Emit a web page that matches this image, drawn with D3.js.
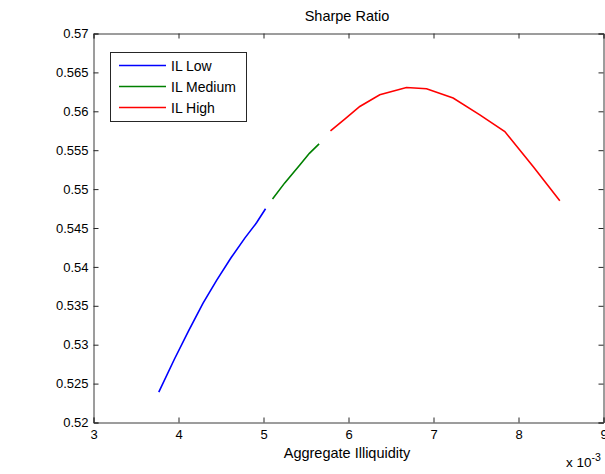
<!doctype html>
<html lang="en">
<head>
<meta charset="UTF-8" />
<title>Sharpe Ratio</title>
<script src="https://d3js.org/d3.v7.min.js"></script>
<style>
  html, body { margin: 0; padding: 0; background: #fff; }
  svg { display: block; font-family: Arial, "Liberation Sans", sans-serif; }
  .tick-label { font-size: 13px; fill: #000; }
</style>
</head>
<body>
<svg id="chart" width="605" height="474"></svg>
<script>
  // values (x in units of 10^-3)
  const lowX = [3.768, 3.95, 4.12, 4.289, 4.45, 4.62, 4.78, 4.92, 5.024];
  const lowY = [0.52391, 0.5281, 0.5318, 0.53535, 0.5383, 0.5412, 0.5437, 0.5457, 0.54747];
  const medX = [5.106, 5.25, 5.427, 5.54, 5.654];
  const medY = [0.54872, 0.5508, 0.5531, 0.5546, 0.55582];
  const highX = [5.788, 5.956, 6.133, 6.368, 6.682, 6.918, 7.231, 7.545, 7.839, 8.172, 8.486];
  const highY = [0.55749, 0.5590, 0.56062, 0.56212, 0.56306, 0.56289, 0.5617, 0.55955, 0.5574, 0.5529, 0.5485];
  const seriesNames = ["IL Low", "IL Medium", "IL High"];
  const seriesColors = ["#0000ff", "#008000", "#ff0000"];
  const xTicks = [3, 4, 5, 6, 7, 8, 9];
  const yTicks = [0.52, 0.525, 0.53, 0.535, 0.54, 0.545, 0.55, 0.555, 0.56, 0.565, 0.57];

  const svg = d3.select("#chart");
  const plotLeft = 93.5, plotRight = 603.5, plotTop = 33.5, plotBottom = 422.5;

  const x = d3.scaleLinear().domain([3, 9]).range([plotLeft, plotRight]);
  const y = d3.scaleLinear().domain([0.52, 0.57]).range([plotBottom, plotTop]);

  const fmtY = d => String(+d.toFixed(3));

  // axes, ticks pointing inwards like matlab
  svg.append("g").attr("transform", `translate(0,${plotBottom})`)
    .call(d3.axisBottom(x).tickValues(xTicks).tickSize(-5).tickPadding(7).tickFormat(d3.format("d")));
  svg.append("g").attr("transform", `translate(0,${plotTop})`)
    .call(d3.axisTop(x).tickValues(xTicks).tickSize(-5).tickFormat(""));
  svg.append("g").attr("transform", `translate(${plotLeft},0)`)
    .call(d3.axisLeft(y).tickValues(yTicks).tickSize(-5).tickPadding(5).tickFormat(fmtY));
  svg.append("g").attr("transform", `translate(${plotRight},0)`)
    .call(d3.axisRight(y).tickValues(yTicks).tickSize(-5).tickFormat(""));

  svg.selectAll(".domain").attr("stroke", "#3a3a3a");
  svg.selectAll(".tick line").attr("stroke", "#262626");
  svg.selectAll(".tick text").attr("class", "tick-label");
  svg.selectAll("g").attr("font-size", null).attr("font-family", null);

  const line = d3.line().x(d => x(d[0])).y(d => y(d[1]));
  const series = [
    d3.zip(lowX, lowY),
    d3.zip(medX, medY),
    d3.zip(highX, highY)
  ];
  series.forEach((pts, i) => {
    svg.append("path")
      .datum(pts)
      .attr("d", line)
      .attr("fill", "none")
      .attr("stroke", seriesColors[i])
      .attr("stroke-width", 1.6);
  });

  // title and labels
  svg.append("text").attr("x", 347).attr("y", 21)
    .attr("text-anchor", "middle").attr("font-size", 14.5).text("Sharpe Ratio");
  svg.append("text").attr("x", 347).attr("y", 458)
    .attr("text-anchor", "middle").attr("font-size", 14.5).text("Aggregate Illiquidity");
  const mult = svg.append("text").attr("x", 566).attr("y", 467).attr("font-size", 13.5);
  mult.append("tspan").text("x 10");
  mult.append("tspan").attr("dy", -6).attr("font-size", 10.5).text("-3");

  // legend
  const legend = svg.append("g");
  legend.append("rect").attr("x", 110.5).attr("y", 52.5).attr("width", 136).attr("height", 69)
    .attr("fill", "#fff").attr("stroke", "#262626");
  seriesNames.forEach((name, i) => {
    const ly = 65.5 + i * 21;
    legend.append("line").attr("x1", 119).attr("x2", 166).attr("y1", ly).attr("y2", ly)
      .attr("stroke", seriesColors[i]).attr("stroke-width", 1.6);
    legend.append("text").attr("x", 171).attr("y", ly + 5).attr("font-size", 14).text(name);
  });
</script>
</body>
</html>
